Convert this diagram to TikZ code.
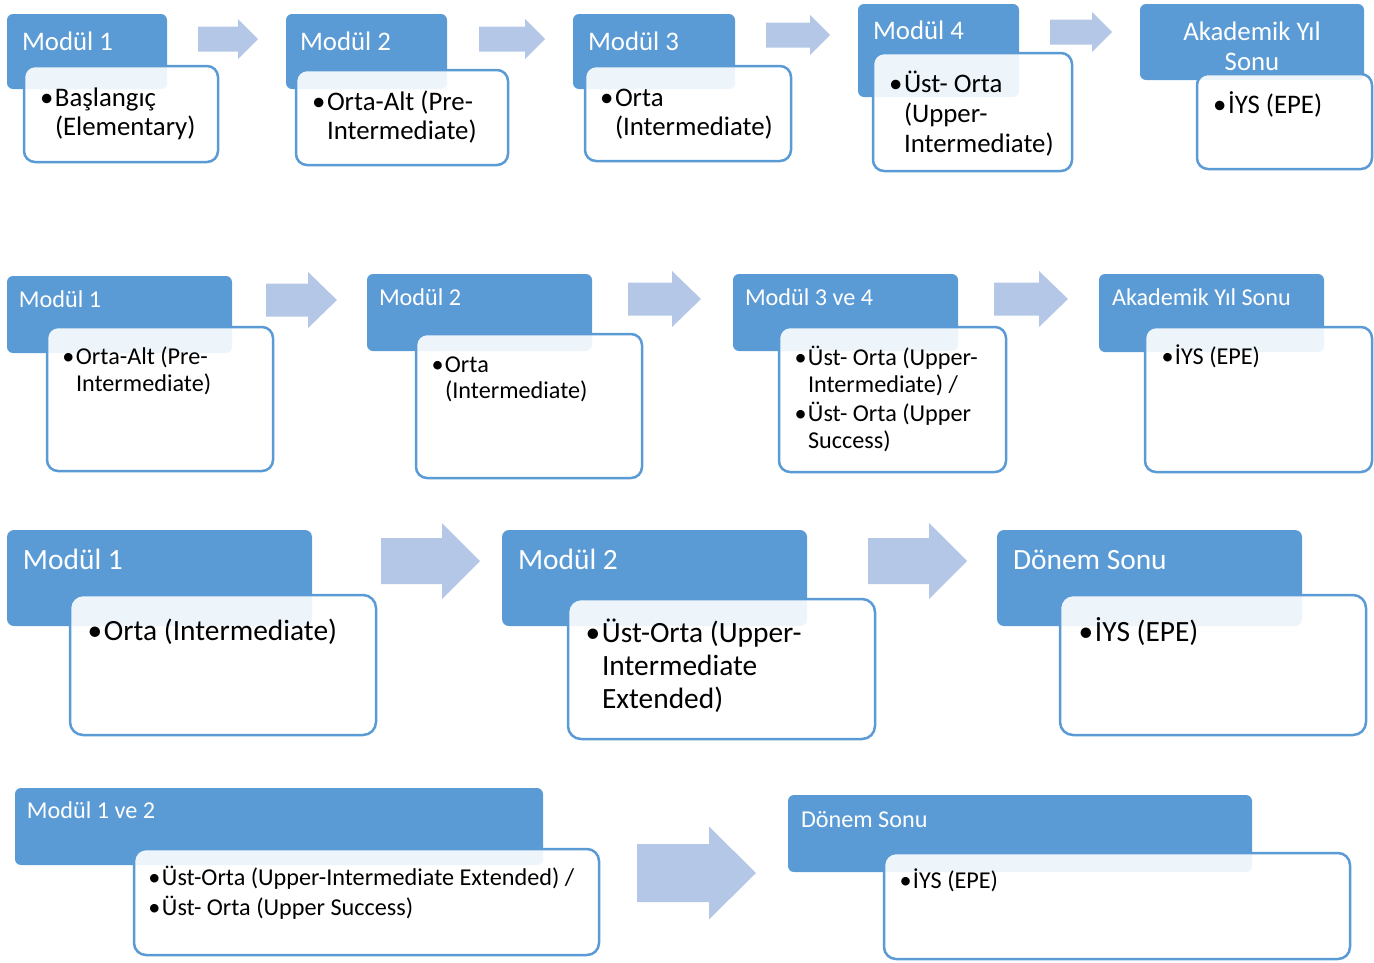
\documentclass[tikz,border=0pt]{standalone}
\usepackage{fontspec}
\setmainfont{Carlito}
\definecolor{hdr}{HTML}{5B9BD5}
\definecolor{arr}{HTML}{B4C7E7}
\newcommand\myfs[2]{\fontsize{#1}{#2}\selectfont}
\newcommand\bul{\llap{•\hspace{0.06em}}}
\tikzset{
  hdrbox/.style={fill=hdr, rounded corners=6pt, inner sep=0pt, outer sep=0pt, anchor=north west},
  bodybox/.style={draw=hdr, line width=2.5pt, fill=white, fill opacity=0.9, draw opacity=1, rounded corners=11pt, inner sep=0pt, outer sep=0pt, anchor=north west},
  htext/.style={text=white, inner sep=0pt, outer sep=0pt, anchor=base west},
  btext/.style={text=black, inner sep=0pt, outer sep=0pt, anchor=base west},
  arrowfill/.style={fill=arr},
}
% header node: name, x1, y1, x2, y2, extra
\newcommand\hdrnode[6]{\node[hdrbox, minimum width={(#4-#2)*1pt}, minimum height={(#5-#3)*1pt}, #6] (#1) at (#2,#3) {};}
\newcommand\bodynode[6]{\node[bodybox, minimum width={(#4-#2)*1pt}, minimum height={(#5-#3)*1pt}, #6] (#1) at (#2,#3) {};}
% block arrow: x1 (tail), x2 (head base), x3 (tip), yc, shaft half, head half
\newcommand\barrow[6]{\fill[arrowfill] ({#1},{#4-#5}) -- ({#2},{#4-#5}) -- ({#2},{#4-#6}) -- ({#3},{#4}) -- ({#2},{#4+#6}) -- ({#2},{#4+#5}) -- ({#1},{#4+#5}) -- cycle;}
\begin{document}
\begin{tikzpicture}[x=1pt,y=-1pt]
\useasboundingbox (0,0) rectangle (1374,962);
\begin{scope}
\clip (0,0) rectangle (1374,962);
% ---------------- Row 1 ----------------
\hdrnode{a1h}{7}{14}{167}{89}{}
\bodynode{a1b}{24}{66}{218}{162}{}
\hdrnode{a2h}{286}{14}{447}{89}{}
\bodynode{a2b}{296}{70}{508}{165}{}
\hdrnode{a3h}{573}{14}{735}{89}{}
\bodynode{a3b}{585}{66}{791}{161}{}
\hdrnode{a4h}{858}{4}{1019}{97}{}
\bodynode{a4b}{873}{53}{1072}{171}{}
\hdrnode{a5h}{1140}{4}{1364}{80}{}
\bodynode{a5b}{1197}{74}{1372}{169}{}
\barrow{198}{238}{258}{39}{12.5}{20}
\barrow{479}{525}{545}{39}{12.5}{20}
\barrow{766}{810}{830}{35}{12.5}{20}
\barrow{1050}{1092}{1112}{32}{12.5}{20}
\node[htext] (a1ht) at (22,50) {\myfs{26.8}{29}Modül 1};
\node[htext] (a2ht) at (300,50) {\myfs{26.8}{29}Modül 2};
\node[htext] (a3ht) at (588,50) {\myfs{26.8}{29}Modül 3};
\node[htext] (a4ht) at (873,39) {\myfs{26.8}{29}Modül 4};
\node[htext, anchor=base] (a5ht) at (1252,40) {\myfs{26.8}{30}\begin{tabular}[t]{@{}c@{}}Akademik Yıl\\Sonu\end{tabular}};
\node[btext] (a1bt) at (55,106) {\myfs{26.8}{29}\begin{tabular}[t]{@{}l@{}}\bul Başlangıç\\(Elementary)\end{tabular}};
\node[btext] (a2bt) at (327,110) {\myfs{26.8}{29}\begin{tabular}[t]{@{}l@{}}\bul Orta-Alt (Pre-\\Intermediate)\end{tabular}};
\node[btext] (a3bt) at (615,106) {\myfs{26.8}{29}\begin{tabular}[t]{@{}l@{}}\bul Orta\\(Intermediate)\end{tabular}};
\node[btext] (a4bt) at (904,92) {\myfs{26.8}{30}\begin{tabular}[t]{@{}l@{}}\bul Üst- Orta\\(Upper-\\Intermediate)\end{tabular}};
\node[btext] (a5bt) at (1228,113) {\myfs{26.8}{29}\bul İYS (EPE)};
% ---------------- Row 2 ----------------
\hdrnode{b1h}{7}{276}{232}{353}{}
\bodynode{b1b}{47}{327}{273}{471}{}
\hdrnode{b2h}{367}{274}{592}{351}{}
\bodynode{b2b}{416}{334}{642}{478}{}
\hdrnode{b3h}{733}{274}{958}{351}{}
\bodynode{b3b}{779}{327}{1006}{472}{}
\hdrnode{b4h}{1099}{274}{1324}{352}{}
\bodynode{b4b}{1145}{327}{1372}{472}{}
\barrow{266}{308}{337}{300}{16.5}{28}
\barrow{628}{672}{701}{299}{16.5}{28}
\barrow{994}{1039}{1068}{299}{16.5}{28}
\node[htext] (b1ht) at (19,307) {\myfs{24.2}{27}Modül 1};
\node[htext] (b2ht) at (379,305) {\myfs{24.2}{27}Modül 2};
\node[htext] (b3ht) at (745,305) {\myfs{24.2}{27}Modül 3 ve 4};
\node[htext] (b4ht) at (1112,305) {\myfs{24.2}{27}Akademik Yıl Sonu};
\node[btext] (b1bt) at (76,364) {\myfs{24.2}{27}\begin{tabular}[t]{@{}l@{}}\bul Orta-Alt (Pre-\\Intermediate)\end{tabular}};
\node[btext] (b2bt) at (445,372) {\myfs{24.2}{26.5}\begin{tabular}[t]{@{}l@{}}\bul Orta\\(Intermediate)\end{tabular}};
\node[btext] (b3bt) at (808,365) {\myfs{24.2}{27}\begin{tabular}[t]{@{}l@{}}\bul Üst- Orta (Upper-\\Intermediate) /\\[2pt]\bul Üst- Orta (Upper\\Success)\end{tabular}};
\node[btext] (b4bt) at (1175,364) {\myfs{24.2}{27}\bul İYS (EPE)};
% ---------------- Row 3 ----------------
\hdrnode{c1h}{7}{530}{312}{626}{rounded corners=7pt}
\bodynode{c1b}{70}{595}{376}{735}{rounded corners=13pt}
\hdrnode{c2h}{502}{530}{807}{626}{rounded corners=7pt}
\bodynode{c2b}{568}{599}{875}{739}{rounded corners=13pt}
\hdrnode{c3h}{997}{530}{1302}{626}{rounded corners=7pt}
\bodynode{c3b}{1060}{595}{1366}{735}{rounded corners=13pt}
\barrow{381}{442}{480}{561}{23}{38}
\barrow{868}{929}{967}{561}{23}{38}
\node[htext] (c1ht) at (23,569) {\myfs{29.4}{33}Modül 1};
\node[htext] (c2ht) at (518,569) {\myfs{29.4}{33}Modül 2};
\node[htext] (c3ht) at (1013,569) {\myfs{29.4}{33}Dönem Sonu};
\node[btext] (c1bt) at (104,640) {\myfs{29.4}{33}\bul Orta (Intermediate)};
\node[btext] (c2bt) at (602,642) {\myfs{29.4}{33}\begin{tabular}[t]{@{}l@{}}\bul Üst-Orta (Upper-\\Intermediate\\Extended)\end{tabular}};
\node[btext] (c3bt) at (1095,641) {\myfs{29.4}{33}\bul İYS (EPE)};
% ---------------- Row 4 ----------------
\hdrnode{d1h}{15}{788}{543}{865}{}
\bodynode{d1b}{134}{849}{599}{955}{rounded corners=12pt}
\hdrnode{d2h}{788}{795}{1252}{872}{}
\bodynode{d2b}{884}{853}{1350}{959}{rounded corners=12pt}
\barrow{637}{709}{756}{873}{29}{46.5}
\node[htext] (d1ht) at (27,818) {\myfs{24.2}{27}Modül 1 ve 2};
\node[htext] (d2ht) at (801,827) {\myfs{24.2}{27}Dönem Sonu};
\node[btext] (d1bt) at (162,885) {\myfs{24.2}{27}\begin{tabular}[t]{@{}l@{}}\bul Üst-Orta (Upper-Intermediate Extended) /\\[3pt]\bul Üst- Orta (Upper Success)\end{tabular}};
\node[btext] (d2bt) at (913,888) {\myfs{24.2}{27}\bul İYS (EPE)};
\end{scope}
\end{tikzpicture}
\end{document}
